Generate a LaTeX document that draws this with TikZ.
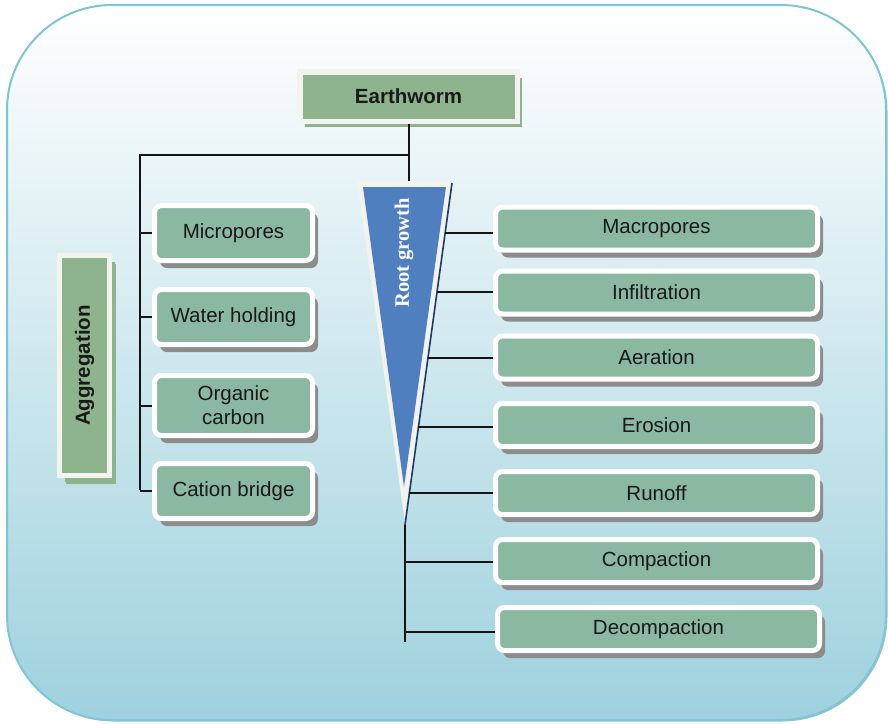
\documentclass[tikz,border=0pt]{standalone}
\usepackage{fontspec}
\setmainfont{Liberation Sans}
\newfontfamily\rootserif{Liberation Serif}
\usetikzlibrary{shadows,calc}

\definecolor{framefill}{HTML}{9ED1DE}
\definecolor{framemid}{HTML}{D3E9EF}
\definecolor{frameline}{HTML}{7EC5D5}
\definecolor{frameshade}{HTML}{5E9AAA}
\definecolor{headgreen}{HTML}{8DB48D}
\definecolor{headrim}{HTML}{F3F3EF}
\definecolor{itemgreen}{HTML}{8BB8A0}
\definecolor{itemshadow}{HTML}{8C8C8C}
\definecolor{rootblue}{HTML}{4F7FBF}
\definecolor{rootrim}{HTML}{F2F2EF}
\definecolor{rootedge}{HTML}{1F3A66}
\definecolor{linkcol}{HTML}{141414}

\begin{document}
\begin{tikzpicture}[x=1pt,y=-1pt,
  headbox/.style={draw=headrim, line width=5pt, fill=headgreen, inner sep=0pt,
    font=\fontsize{20.5}{24}\selectfont\bfseries, text=black!90,
    drop shadow={shadow xshift=5pt, shadow yshift=-6pt, fill=headgreen, opacity=1}},
  itembox/.style={draw=white, line width=5pt, fill=itemgreen, rounded corners=7pt,
    inner sep=0pt, align=center, font=\fontsize{20.5}{24}\selectfont, text=black!90,
    drop shadow={shadow xshift=5.5pt, shadow yshift=-7.5pt, fill=itemshadow, opacity=1}},
  leftbox/.style={itembox, minimum width=158pt, minimum height=55pt},
  rightbox/.style={itembox, minimum width=322pt, minimum height=43pt},
  link/.style={draw=linkcol, line width=2pt}]

% canvas and rounded frame
\path[use as bounding box] (0,0) rectangle (888,724);
\shadedraw[top color=white, middle color=framemid, bottom color=framefill,
  draw=frameline, line width=2pt, rounded corners=105pt,
  drop shadow={shadow xshift=1.5pt, shadow yshift=-1.5pt, fill=frameshade, opacity=0.6}]
  (7,5) rectangle (886,720);

% head node
\node[headbox, minimum width=217.5pt, minimum height=49.5pt, line width=5.5pt]
  (worm) at (408.5,96.5) {Earthworm};

% stem and left bracket
\coordinate (hub) at (worm.south |- 0,155);
\coordinate (lcorner) at (140,155);
\coordinate (lend) at (140,490);
\draw[link] (worm.south) -- (worm.south |- 0,182);
\draw[link] (hub) -- (lcorner) -- (lend);

% root growth wedge
\fill[rootrim] (357,181) -- (452,181) -- (405,523) -- cycle;
\fill[rootblue] (363,187) -- (446,187) -- (404,487) -- cycle;
\node[text=white, font=\rootserif\fontsize{20.5}{24}\selectfont\bfseries, rotate=90]
  (root) at (404,253) {Root growth};

\coordinate (rtop) at (452,183);
\coordinate (rtip) at (405,525);
\coordinate (rend) at (405,642);
\draw[rootedge, line width=1.6pt] (rtop) -- (rtip);
\draw[link] (rtip) -- (rend);
\path (rtop) -- (rtip)
  coordinate[pos=0.146] (e1)
  coordinate[pos=0.319] (e2)
  coordinate[pos=0.512] (e3)
  coordinate[pos=0.713] (e4)
  coordinate[pos=0.906] (e5);
\coordinate (e6) at (rtip |- 0,562);
\coordinate (e7) at (rtip |- 0,632);

% aggregation node
\node[headbox, minimum width=50pt, minimum height=220pt,
  drop shadow={shadow xshift=6pt, shadow yshift=-8pt, fill=headgreen, opacity=1}]
  (agg) at (84.5,365.5) {\rotatebox{90}{Aggregation}};

% left items
\node[leftbox] (micro)   at (233.5,233) {Micropores};
\node[leftbox] (water)   at (233.5,317) {Water holding};
\node[leftbox, minimum height=60pt] (organic) at (233.5,405.5) {Organic\\carbon};
\node[leftbox] (cation)  at (233.5,491) {Cation bridge};

% right items
\node[rightbox] (macro)  at (656.5,228.5) {Macropores};
\node[rightbox] (infil)  at (656.5,292.5) {Infiltration};
\node[rightbox] (aer)    at (656.5,357.5) {Aeration};
\node[rightbox] (ero)    at (656.5,425)   {Erosion};
\node[rightbox] (run)    at (656.5,493)   {Runoff};
\node[rightbox] (comp)   at (656.5,561)   {Compaction};
\node[rightbox] (decomp) at (658.5,629)   {Decompaction};

% connectors to the items
\draw[link] (micro.west -| lcorner) -- (micro.west);
\draw[link] (water.west -| lcorner) -- (water.west);
\draw[link] (organic.west -| lcorner) -- (organic.west);
\draw[link] (cation.west -| lcorner) -- (cation.west);

\draw[link] (e1) -- (e1 -| macro.west);
\draw[link] (e2) -- (e2 -| infil.west);
\draw[link] (e3) -- (e3 -| aer.west);
\draw[link] (e4) -- (e4 -| ero.west);
\draw[link] (e5) -- (e5 -| run.west);
\draw[link] (e6) -- (e6 -| comp.west);
\draw[link] (e7) -- (e7 -| decomp.west);

\end{tikzpicture}
\end{document}
